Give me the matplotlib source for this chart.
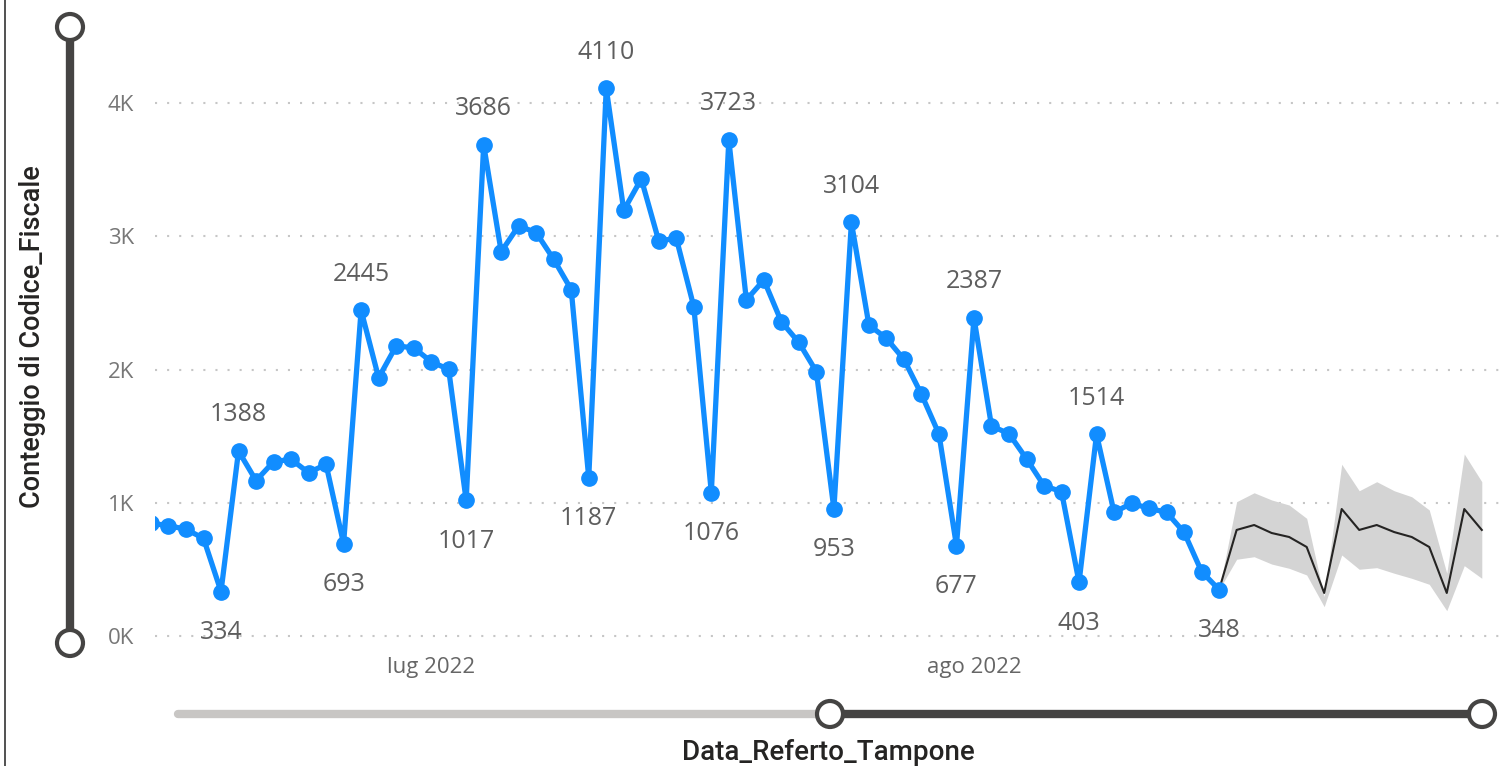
import numpy as np
import pandas as pd
import matplotlib
matplotlib.use('Agg')
import matplotlib.pyplot as plt
from matplotlib.patches import Circle

# ---- data ----
start_date = "2022-06-15"
counts = [846, 828, 801, 733, 334, 1388, 1166, 1308, 1326, 1226, 1288, 693,
          2445, 1938, 2176, 2164, 2059, 2001, 1017, 3686, 2884, 3079, 3027,
          2827, 2600, 1187, 4110, 3195, 3430, 2964, 2985, 2471, 1076, 3723,
          2522, 2672, 2359, 2203, 1984, 953, 3104, 2334, 2234, 2076, 1814,
          1516, 677, 2387, 1576, 1518, 1330, 1128, 1083, 403, 1514, 928, 996,
          958, 928, 778, 483, 348]
forecast = [796, 833, 773, 743, 668, 323, 953, 796, 833, 780, 743, 668, 323,
            953, 796]
forecast_hi = [1008, 1075, 1021, 983, 883, 295, 1289, 1090, 1158, 1090, 1045,
               946, 471, 1366, 1158]
forecast_lo = [576, 595, 540, 508, 458, 220, 608, 501, 513, 471, 433, 388,
               190, 528, 433]
labels_up = [1388, 2445, 3686, 4110, 3723, 3104, 2387, 1514]
labels_down = [334, 693, 1017, 1187, 1076, 953, 677, 403, 348]
month_ticks = ["2022-07-01", "2022-08-01"]
month_labels = ["lug 2022", "ago 2022"]
y_ticks = [0, 1000, 2000, 3000, 4000]
y_labels = ["0K", "1K", "2K", "3K", "4K"]

W, H = 1507, 766
BLUE = '#118DFF'

plt.rcParams['font.family'] = ['Open Sans', 'DejaVu Sans']

dates = pd.date_range(start_date, periods=len(counts) + len(forecast))
d_obs = dates[:len(counts)]
d_fc = dates[len(counts) - 1:]
fc_line = [counts[-1]] + forecast
fc_hi = [counts[-1]] + forecast_hi
fc_lo = [counts[-1]] + forecast_lo

fig = plt.figure(figsize=(W / 100, H / 100), dpi=100)

# plot area in pixels: x 155..1500, y 30..650
ax = fig.add_axes([155 / W, 116 / H, (1500 - 155) / W, 620 / H])
ax.set_ylim(-105, 4548)
ax.set_xlim(pd.Timestamp(start_date) + pd.Timedelta(days=0.23),
            pd.Timestamp(start_date) + pd.Timedelta(days=77.04))

for v in y_ticks:
    ax.axhline(v, color='#c6c6c6', lw=1.5, ls=(0, (1, 4.8)), zorder=0)

ax.fill_between(d_fc, fc_lo, fc_hi, color='#d4d4d4', lw=0, zorder=1)
ax.plot(d_fc, fc_line, color='#252423', lw=1.5, zorder=2)
ax.plot(d_obs, counts, color=BLUE, lw=3.8, marker='o', markersize=11,
        solid_joinstyle='round', zorder=3)

for d, v in zip(d_obs, counts):
    if v in labels_up:
        ax.annotate(str(v), (d, v), xytext=(0, 26), textcoords='offset points',
                    ha='center', va='center', fontsize=18, color='#5e5e5e')
    elif v in labels_down:
        ax.annotate(str(v), (d, v), xytext=(0, -29.5), textcoords='offset points',
                    ha='center', va='center', fontsize=18, color='#5e5e5e')

ax.set_yticks(y_ticks)
ax.set_yticklabels(y_labels, fontsize=16, color='#777777')
ax.set_xticks(pd.to_datetime(month_ticks))
ax.set_xticklabels(month_labels, fontsize=16, color='#666666')
ax.tick_params(axis='y', length=0, pad=15)
ax.tick_params(axis='x', length=0, pad=5)
for s in ax.spines.values():
    s.set_visible(False)
ax.patch.set_alpha(0)

# overlay in pixel coordinates for sliders, titles and border
ov = fig.add_axes([0, 0, 1, 1])
ov.set_xlim(0, W)
ov.set_ylim(H, 0)
ov.axis('off')

ov.plot([5, 5], [0, H], color='#333333', lw=1.2)

# vertical zoom slider
ov.plot([70, 70], [27, 643], color='#454443', lw=6, solid_capstyle='butt')
for cy in (27, 643):
    ov.add_patch(Circle((70, cy), 13, facecolor='white', edgecolor='#454443', lw=3, zorder=5))

# horizontal zoom slider
ov.plot([178, 830], [714, 714], color='#c8c6c4', lw=6, solid_capstyle='round')
ov.plot([830, 1482], [714, 714], color='#454443', lw=6, solid_capstyle='butt')
for cx in (830, 1482):
    ov.add_patch(Circle((cx, 714), 13, facecolor='white', edgecolor='#454443', lw=3, zorder=5))

ov.text(33, 337, "Conteggio di Codice_Fiscale", rotation=90, ha='center', va='center',
        fontsize=19.5, color='#252423', family=['Roboto', 'DejaVu Sans'], fontweight='medium')
ov.text(828, 752, "Data_Referto_Tampone", ha='center', va='center',
        fontsize=20, color='#252423', family=['Roboto', 'DejaVu Sans'], fontweight='medium')

fig.savefig('out.png', dpi=100)
